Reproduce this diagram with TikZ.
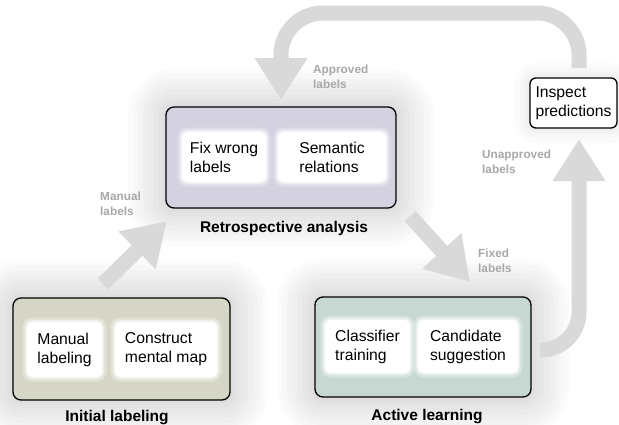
\documentclass[tikz,border=0pt]{standalone}
\usepackage{fontspec}
\setmainfont{Liberation Sans}
\usetikzlibrary{arrows.meta}
\definecolor{arrowgray}{HTML}{D9D9D9}
\definecolor{labelgray}{HTML}{A8A8A8}
\definecolor{retrofill}{HTML}{D4D2E0}
\definecolor{initfill}{HTML}{D6D6C6}
\definecolor{activefill}{HTML}{C6D8D1}
\tikzset{
  glowlayer/.style={preaction={draw=black, draw opacity=.016, line width=#1}},
  softglow/.style={glowlayer=76pt, glowlayer=66pt, glowlayer=56pt, glowlayer=46pt,
    glowlayer=36pt, glowlayer=26pt, glowlayer=16pt, glowlayer=8pt},
  smallglow/.style={glowlayer=30pt, glowlayer=20pt, glowlayer=12pt, glowlayer=6pt},
  outerbox/.style={softglow, draw=black, line width=1.3pt, rounded corners=8pt},
  innerbox/.style={fill=white, rounded corners=5pt, draw=white, draw opacity=.5, line width=4pt,
    preaction={draw=white, draw opacity=.3, line width=9pt},
    align=left, inner sep=0pt, font=\fontsize{15.7}{19}\selectfont},
  phaselabel/.style={font=\bfseries\fontsize{15.5}{18}\selectfont, anchor=base},
  flowlabel/.style={text=labelgray, font=\bfseries\fontsize{11.8}{15}\selectfont, align=left, anchor=west, inner sep=0pt},
  flowarrow/.style={draw=arrowgray, line width=15pt, -{Triangle[width=50pt,length=42pt]}}
}
\begin{document}
\begin{tikzpicture}[x=1pt,y=-1pt]
\useasboundingbox (0,0) rectangle (619,424);
\fill[white] (0,0) rectangle (619,424);

% boxes
\node[outerbox, fill=retrofill, minimum width=230pt, minimum height=101pt] (retro) at (281,157.5) {};
\node[innerbox, minimum width=84pt, minimum height=50pt] (fix) at (224,157) {Fix wrong\\labels};
\node[innerbox, minimum width=108pt, minimum height=50pt] (sem) at (332,157) {Semantic\\relations};
\node[phaselabel] (retrolab) at (284,232) {Retrospective analysis};

\node[outerbox, fill=initfill, minimum width=217pt, minimum height=102pt] (init) at (121.5,349) {};
\node[innerbox, minimum width=75pt, minimum height=55pt] (man) at (64.5,349.5) {Manual\\labeling};
\node[innerbox, minimum width=102pt, minimum height=55pt] (con) at (166,349.5) {Construct\\mental map};
\node[phaselabel] (initlab) at (117,421) {Initial labeling};

\node[outerbox, fill=activefill, minimum width=216pt, minimum height=100pt] (active) at (423,347) {};
\node[innerbox, minimum width=85pt, minimum height=53pt] (cls) at (367.5,346.5) {Classifier\\training};
\node[innerbox, minimum width=100pt, minimum height=53pt] (cand) at (468,346.5) {Candidate\\suggestion};
\node[phaselabel] (activelab) at (427,420) {Active learning};

\node[smallglow, draw=black, fill=white, line width=1.3pt, rounded corners=6pt, minimum width=87pt, minimum height=50pt,
  align=left, inner sep=0pt, font=\fontsize{15.7}{19}\selectfont] (insp) at (573.5,103) {Inspect\\predictions};

% connector end points
\coordinate (m1) at (103,284);
\coordinate (m2) at (167,221);
\coordinate (f1) at (410,216);
\coordinate (f2) at (470,282);
\coordinate (u1) at (540,350);
\coordinate (u2) at (579,139);
\coordinate (a1) at (579,68);
\coordinate (a2) at (281,100);

% arrows
\draw[flowarrow] (m1) -- (m2);
\draw[flowarrow] (f1) -- (f2);
\draw[flowarrow, rounded corners=38pt] (u1) -- (u1 -| u2) -- (u2);
\draw[flowarrow, rounded corners=42pt] (a1) -- (579,13) -- (281,13) -- (a2);

% arrow labels
\node[flowlabel] (lapp) at (313,77) {Approved\\labels};
\node[flowlabel] (lunapp) at (482,162) {Unapproved\\labels};
\node[flowlabel] (lfix) at (478,261) {Fixed\\labels};
\node[flowlabel] (lman) at (100,204) {Manual\\labels};
\end{tikzpicture}
\end{document}
